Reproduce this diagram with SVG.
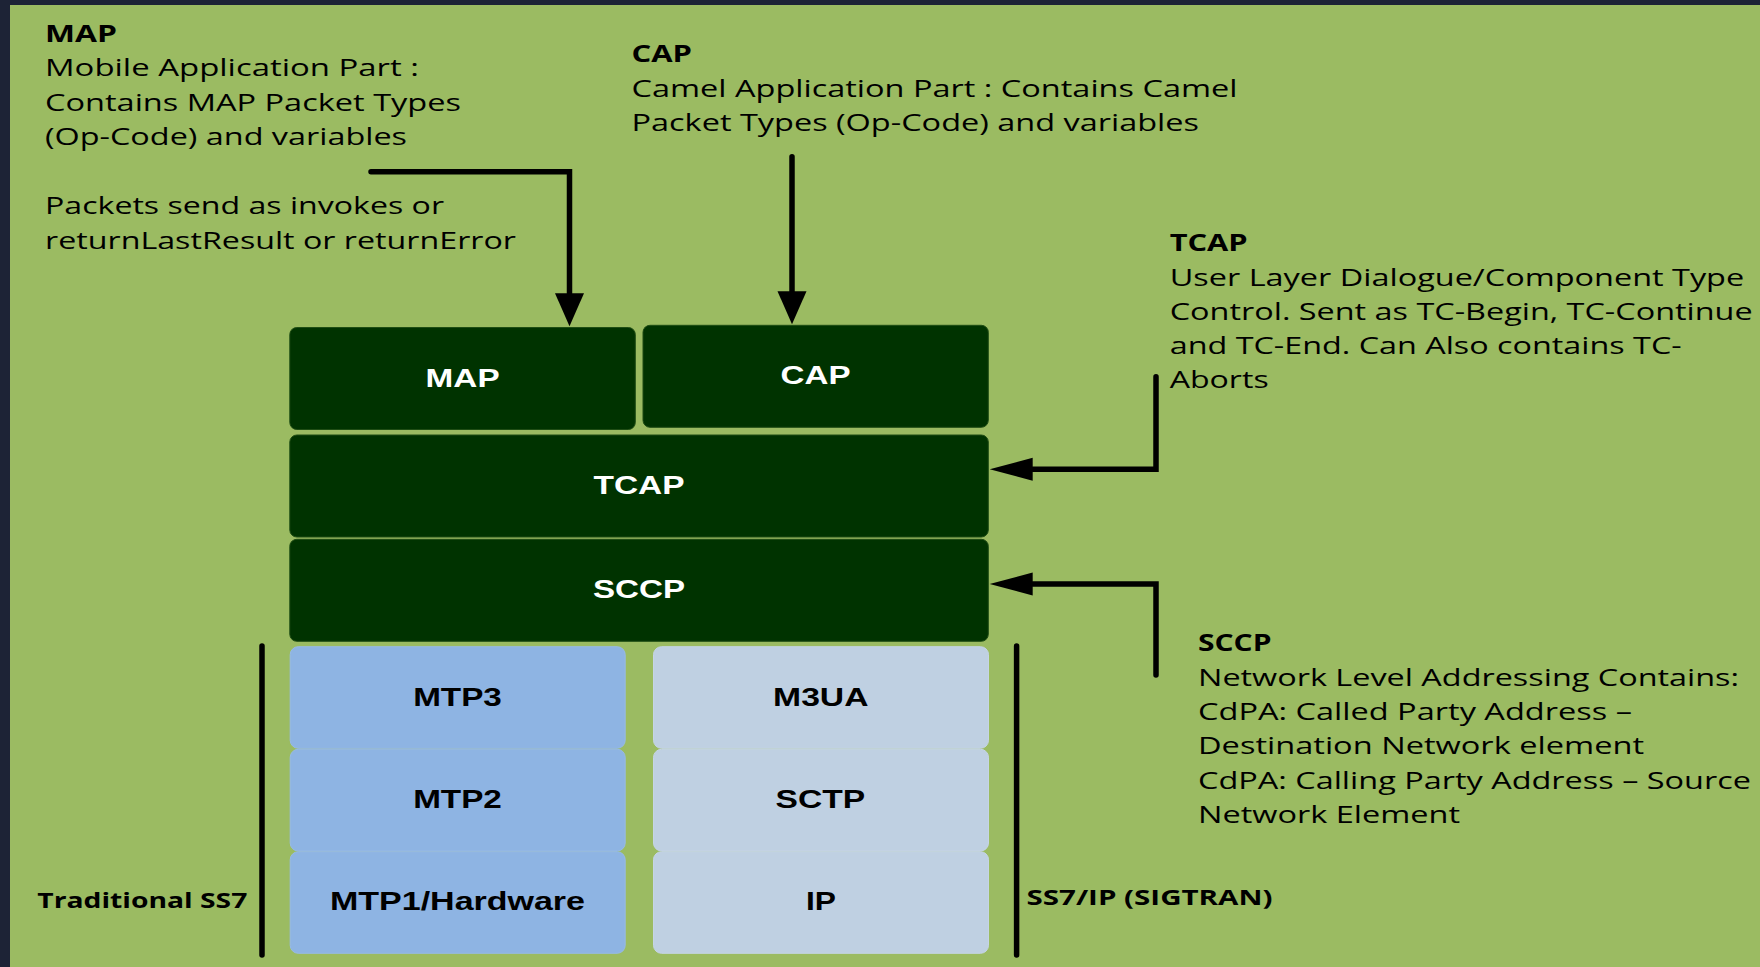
<svg xmlns="http://www.w3.org/2000/svg" width="1760" height="967" viewBox="0 0 1760 967">
  <style>
    .body { font-family: "Open Sans", "Noto Sans", sans-serif; font-size: 23px; fill: #000; }
    .head { font-family: "Open Sans", "Noto Sans", sans-serif; font-size: 22.5px; font-weight: bold; fill: #000; }
    .side { font-family: "Open Sans", "Noto Sans", sans-serif; font-size: 21.5px; font-weight: bold; fill: #000; }
    .upper rect { fill: #003300; stroke: #1f4d14; stroke-width: 1; }
    .upper text { font-family: "Liberation Sans", Arial, sans-serif; font-size: 26px; font-weight: bold; fill: #fff; text-anchor: middle; }
    .mtp rect { fill: #8eb4e3; stroke: #98bbe4; stroke-width: 1; }
    .sig rect { fill: #bfd0e2; stroke: #c6d5e5; stroke-width: 1; }
    .mtp text, .sig text { font-family: "Liberation Sans", Arial, sans-serif; font-size: 26px; font-weight: bold; fill: #000; text-anchor: middle; }
    .wire { fill: none; stroke: #000; stroke-width: 5.5; stroke-linecap: round; stroke-linejoin: miter; }
    .bracket { stroke: #000; stroke-width: 5.5; stroke-linecap: round; }
  </style>
  <defs>
    <marker id="head-down" markerUnits="userSpaceOnUse" orient="auto" markerWidth="34" markerHeight="30" refX="0" refY="14.5" viewBox="0 0 34 29">
      <path d="M0,0 L33,14.5 L0,29 Z" fill="#000"/>
    </marker>
    <marker id="head-left" markerUnits="userSpaceOnUse" orient="auto" markerWidth="44" markerHeight="24" refX="0" refY="11.5" viewBox="0 0 44 23">
      <path d="M0,0 L43,11.5 L0,23 Z" fill="#000"/>
    </marker>
  </defs>

  <!-- frame and panel -->
  <rect x="0" y="0" width="1760" height="967" fill="#1d2336"/>
  <rect x="10" y="5" width="1750" height="962" fill="#9bbb62"/>

  <!-- descriptive notes -->
  <g id="note-map">
    <text class="head" x="45" y="41.7" textLength="72" lengthAdjust="spacingAndGlyphs">MAP</text>
    <text class="body" x="45" y="76.2" textLength="374" lengthAdjust="spacingAndGlyphs">Mobile Application Part :</text>
    <text class="body" x="45" y="110.7" textLength="416" lengthAdjust="spacingAndGlyphs">Contains MAP Packet Types</text>
    <text class="body" x="45" y="145.2" textLength="362" lengthAdjust="spacingAndGlyphs">(Op-Code) and variables</text>
    <text class="body" x="45" y="214" textLength="399" lengthAdjust="spacingAndGlyphs">Packets send as invokes or</text>
    <text class="body" x="45" y="248.5" textLength="471" lengthAdjust="spacingAndGlyphs">returnLastResult or returnError</text>
  </g>
  <g id="note-cap">
    <text class="head" x="631.5" y="61.7" textLength="60.5" lengthAdjust="spacingAndGlyphs">CAP</text>
    <text class="body" x="631.5" y="96.5" textLength="606" lengthAdjust="spacingAndGlyphs">Camel Application Part : Contains Camel</text>
    <text class="body" x="631.5" y="131" textLength="567.5" lengthAdjust="spacingAndGlyphs">Packet Types (Op-Code) and variables</text>
  </g>
  <g id="note-tcap">
    <text class="head" x="1169.7" y="250.7" textLength="78" lengthAdjust="spacingAndGlyphs">TCAP</text>
    <text class="body" x="1169.7" y="285.6" textLength="574.5" lengthAdjust="spacingAndGlyphs">User Layer Dialogue/Component Type</text>
    <text class="body" x="1169.7" y="320" textLength="583" lengthAdjust="spacingAndGlyphs">Control. Sent as TC-Begin, TC-Continue</text>
    <text class="body" x="1169.7" y="354.2" textLength="512" lengthAdjust="spacingAndGlyphs">and TC-End. Can Also contains TC-</text>
    <text class="body" x="1169.7" y="388.4" textLength="99" lengthAdjust="spacingAndGlyphs">Aborts</text>
  </g>
  <g id="note-sccp">
    <text class="head" x="1198" y="650.7" textLength="73.5" lengthAdjust="spacingAndGlyphs">SCCP</text>
    <text class="body" x="1198" y="685.5" textLength="541" lengthAdjust="spacingAndGlyphs">Network Level Addressing Contains:</text>
    <text class="body" x="1198" y="720" textLength="434" lengthAdjust="spacingAndGlyphs">CdPA: Called Party Address –</text>
    <text class="body" x="1198" y="754.3" textLength="446" lengthAdjust="spacingAndGlyphs">Destination Network element</text>
    <text class="body" x="1198" y="789" textLength="553" lengthAdjust="spacingAndGlyphs">CdPA: Calling Party Address – Source</text>
    <text class="body" x="1198" y="823.3" textLength="262" lengthAdjust="spacingAndGlyphs">Network Element</text>
  </g>

  <!-- upper protocol layers -->
  <g id="layer-map" class="upper">
    <rect x="289.8" y="327.5" width="345.5" height="102" rx="7"/>
    <text x="462.6" y="387.3" textLength="74" lengthAdjust="spacingAndGlyphs">MAP</text>
  </g>
  <g id="layer-cap" class="upper">
    <rect x="643" y="325.3" width="345.3" height="102" rx="7"/>
    <text x="815.6" y="384" textLength="70" lengthAdjust="spacingAndGlyphs">CAP</text>
  </g>
  <g id="layer-tcap" class="upper">
    <rect x="289.8" y="435" width="698.5" height="102" rx="7"/>
    <text x="639" y="493.7" textLength="91" lengthAdjust="spacingAndGlyphs">TCAP</text>
  </g>
  <g id="layer-sccp" class="upper">
    <rect x="289.8" y="539.3" width="698.5" height="102" rx="7"/>
    <text x="639" y="598.3" textLength="92" lengthAdjust="spacingAndGlyphs">SCCP</text>
  </g>

  <!-- traditional SS7 transport -->
  <g id="layer-mtp3" class="mtp">
    <rect x="290.2" y="646.7" width="335" height="101.6" rx="8"/>
    <text x="457.5" y="706" textLength="88.7" lengthAdjust="spacingAndGlyphs">MTP3</text>
  </g>
  <g id="layer-mtp2" class="mtp">
    <rect x="290.2" y="749.3" width="335" height="101.7" rx="8"/>
    <text x="457.5" y="807.7" textLength="88.7" lengthAdjust="spacingAndGlyphs">MTP2</text>
  </g>
  <g id="layer-mtp1" class="mtp">
    <rect x="290.2" y="851.7" width="335" height="101.6" rx="8"/>
    <text x="457.5" y="910" textLength="255" lengthAdjust="spacingAndGlyphs">MTP1/Hardware</text>
  </g>

  <!-- SIGTRAN transport -->
  <g id="layer-m3ua" class="sig">
    <rect x="653.5" y="646.7" width="335" height="101.6" rx="8"/>
    <text x="820.8" y="706" textLength="95.4" lengthAdjust="spacingAndGlyphs">M3UA</text>
  </g>
  <g id="layer-sctp" class="sig">
    <rect x="653.5" y="749.3" width="335" height="101.7" rx="8"/>
    <text x="820.3" y="807.7" textLength="89.5" lengthAdjust="spacingAndGlyphs">SCTP</text>
  </g>
  <g id="layer-ip" class="sig">
    <rect x="653.5" y="851.7" width="335" height="101.6" rx="8"/>
    <text x="821" y="910" textLength="30" lengthAdjust="spacingAndGlyphs">IP</text>
  </g>

  <!-- stack brackets -->
  <g id="stack-traditional">
    <line class="bracket" x1="262" y1="646" x2="262" y2="955"/>
    <text class="side" x="37.3" y="908" textLength="210" lengthAdjust="spacingAndGlyphs">Traditional SS7</text>
  </g>
  <g id="stack-sigtran">
    <line class="bracket" x1="1016.6" y1="646" x2="1016.6" y2="955"/>
    <text class="side" x="1026.5" y="905" textLength="246" lengthAdjust="spacingAndGlyphs">SS7/IP (SIGTRAN)</text>
  </g>

  <!-- connectors -->
  <g id="connectors">
    <path class="wire" d="M371,171.7 H569.5 V293.3" marker-end="url(#head-down)"/>
    <path class="wire" d="M792,156.7 V291.3" marker-end="url(#head-down)"/>
    <path class="wire" d="M1156,376.7 V469.3 H1032.7" marker-end="url(#head-left)"/>
    <path class="wire" d="M1156,675 V584 H1032.7" marker-end="url(#head-left)"/>
  </g>
</svg>
